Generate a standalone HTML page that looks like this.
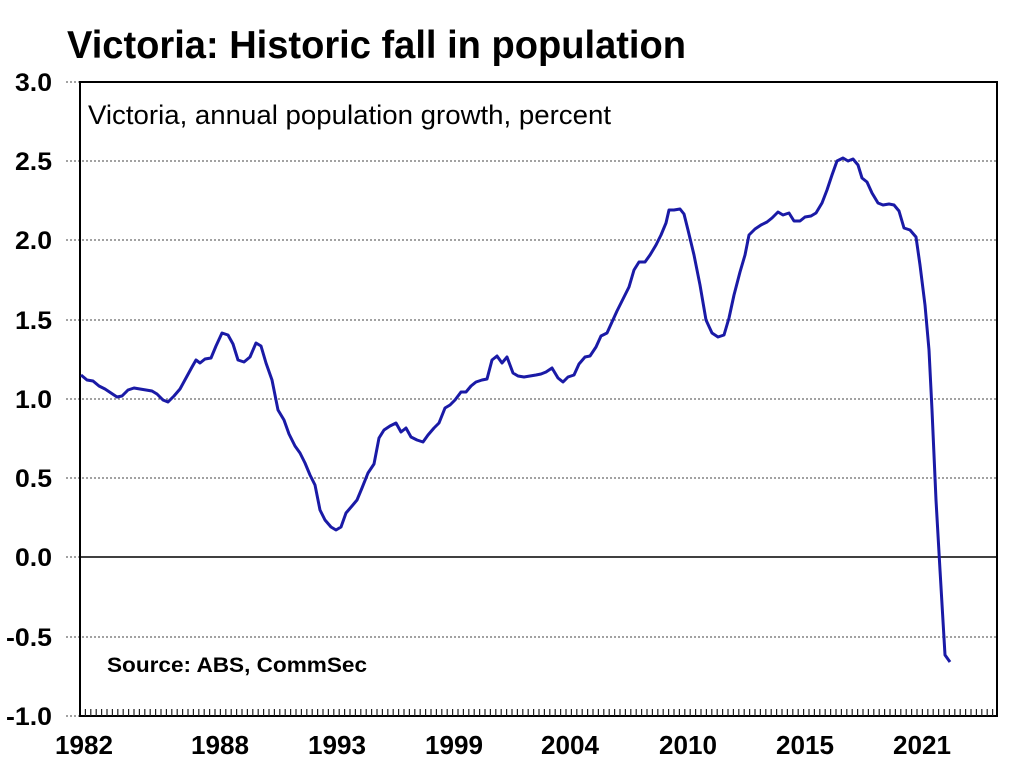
<!DOCTYPE html>
<html><head><meta charset="utf-8"><style>
html,body{margin:0;padding:0;background:#fff;}
svg{display:block;font-family:"Liberation Sans",Arial,sans-serif;}
</style></head><body>
<svg width="1023" height="768" viewBox="0 0 1023 768" xmlns="http://www.w3.org/2000/svg">
<rect width="1023" height="768" fill="#fff"/>
<text x="67" y="58" font-size="39" font-weight="bold" textLength="619" lengthAdjust="spacingAndGlyphs">Victoria: Historic fall in population</text>
<g stroke="#444" stroke-width="1" stroke-dasharray="2,2">
<line x1="66" y1="82" x2="996" y2="82"/>
<line x1="66" y1="161" x2="996" y2="161"/>
<line x1="66" y1="240" x2="996" y2="240"/>
<line x1="66" y1="320" x2="996" y2="320"/>
<line x1="66" y1="399" x2="996" y2="399"/>
<line x1="66" y1="478" x2="996" y2="478"/>
<line x1="66" y1="637" x2="996" y2="637"/>
<line x1="66" y1="716" x2="80" y2="716"/>
<line x1="66" y1="557" x2="80" y2="557"/>
</g>
<line x1="80" y1="557" x2="996" y2="557" stroke="#000" stroke-width="1.5"/>
<rect x="80" y="82" width="917" height="634" fill="none" stroke="#000" stroke-width="2"/>
<g font-size="25" font-weight="bold" text-anchor="end">
<text x="52" y="91" textLength="37" lengthAdjust="spacingAndGlyphs">3.0</text>
<text x="52" y="170" textLength="37" lengthAdjust="spacingAndGlyphs">2.5</text>
<text x="52" y="249" textLength="37" lengthAdjust="spacingAndGlyphs">2.0</text>
<text x="52" y="329" textLength="37" lengthAdjust="spacingAndGlyphs">1.5</text>
<text x="52" y="408" textLength="37" lengthAdjust="spacingAndGlyphs">1.0</text>
<text x="52" y="487" textLength="37" lengthAdjust="spacingAndGlyphs">0.5</text>
<text x="52" y="566" textLength="37" lengthAdjust="spacingAndGlyphs">0.0</text>
<text x="52" y="646" textLength="46" lengthAdjust="spacingAndGlyphs">-0.5</text>
<text x="52" y="725" textLength="46" lengthAdjust="spacingAndGlyphs">-1.0</text>
</g>
<g font-size="26" font-weight="bold" text-anchor="middle">
<text x="84" y="754" textLength="58" lengthAdjust="spacingAndGlyphs">1982</text>
<text x="220" y="754" textLength="58" lengthAdjust="spacingAndGlyphs">1988</text>
<text x="337" y="754" textLength="58" lengthAdjust="spacingAndGlyphs">1993</text>
<text x="454" y="754" textLength="58" lengthAdjust="spacingAndGlyphs">1999</text>
<text x="570" y="754" textLength="58" lengthAdjust="spacingAndGlyphs">2004</text>
<text x="688" y="754" textLength="58" lengthAdjust="spacingAndGlyphs">2010</text>
<text x="805" y="754" textLength="58" lengthAdjust="spacingAndGlyphs">2015</text>
<text x="922" y="754" textLength="58" lengthAdjust="spacingAndGlyphs">2021</text>
</g>
<text x="88" y="124" font-size="27" textLength="523" lengthAdjust="spacingAndGlyphs">Victoria, annual population growth, percent</text>
<text x="107" y="672" font-size="21" font-weight="bold" textLength="260" lengthAdjust="spacingAndGlyphs">Source: ABS, CommSec</text>
<polyline fill="none" stroke="#1a1aa6" stroke-width="3" stroke-linejoin="round" points="81,375 87,380 93,381 99,386 105,389 111,393 117,397 122,396 128,390 134,388 140,389 146,390 152,391 157,394 163,400 168,402 174,396 180,389 186,378 192,367 196,360 200,363 205,359 211,358 216,346 222,333 228,335 233,344 238,360 244,362 250,357 256,343 261,346 266,363 272,380 278,410 284,420 289,434 295,446 300,453 305,463 310,475 315,485 320,510 325,520 331,527 336,530 341,527 346,513 352,506 357,500 362,488 368,473 374,464 379,438 384,430 390,426 396,423 401,432 406,428 411,437 417,440 423,442 428,435 434,428 439,423 445,408 450,405 455,400 461,392 466,392 471,386 476,382 482,380 487,379 492,360 497,356 502,363 507,357 513,373 518,376 524,377 530,376 536,375 541,374 546,372 552,368 558,378 563,382 568,377 574,375 579,364 585,357 590,356 596,347 601,336 607,333 612,322 617,311 623,299 629,287 634,270 639,262 645,262 650,255 656,245 661,235 666,223 669,210 674,210 680,209 684,214 688,230 694,255 700,285 706,320 712,333 718,337 724,335 729,318 734,295 740,272 745,255 749,235 755,229 761,225 767,222 772,218 778,212 783,215 789,213 794,221 800,221 805,217 811,216 816,213 822,203 827,190 832,175 837,161 843,158 848,161 853,159 858,165 862,178 867,182 872,193 878,203 883,205 889,204 894,205 899,211 904,228 910,230 916,237 920,265 925,305 929,350 932,410 936,500 940,570 945,655 950,662"/>
<path stroke="#222" stroke-width="1.2" fill="none" d="M85.4,716v-7M90.8,716v-7M96.2,716v-7M101.6,716v-7M107,716v-7M112.4,716v-7M117.8,716v-7M123.2,716v-7M128.6,716v-7M134,716v-7M139.4,716v-7M144.8,716v-7M150.2,716v-7M155.6,716v-7M161,716v-7M166.4,716v-7M171.8,716v-7M177.2,716v-7M182.6,716v-7M188,716v-7M193.4,716v-7M198.8,716v-7M204.2,716v-7M209.6,716v-7M215,716v-7M220.4,716v-7M225.8,716v-7M231.2,716v-7M236.6,716v-7M242,716v-7M247.4,716v-7M252.8,716v-7M258.2,716v-7M263.6,716v-7M269,716v-7M274.4,716v-7M279.8,716v-7M285.2,716v-7M290.6,716v-7M296,716v-7M301.4,716v-7M306.8,716v-7M312.2,716v-7M317.6,716v-7M323,716v-7M328.4,716v-7M333.8,716v-7M339.2,716v-7M344.6,716v-7M350,716v-7M355.4,716v-7M360.8,716v-7M366.2,716v-7M371.6,716v-7M377,716v-7M382.4,716v-7M387.8,716v-7M393.2,716v-7M398.6,716v-7M404,716v-7M409.4,716v-7M414.8,716v-7M420.2,716v-7M425.6,716v-7M431,716v-7M436.4,716v-7M441.8,716v-7M447.2,716v-7M452.6,716v-7M458,716v-7M463.4,716v-7M468.8,716v-7M474.2,716v-7M479.6,716v-7M485,716v-7M490.4,716v-7M495.8,716v-7M501.2,716v-7M506.6,716v-7M512,716v-7M517.4,716v-7M522.8,716v-7M528.2,716v-7M533.6,716v-7M539,716v-7M544.4,716v-7M549.8,716v-7M555.2,716v-7M560.6,716v-7M566,716v-7M571.4,716v-7M576.8,716v-7M582.2,716v-7M587.6,716v-7M593,716v-7M598.4,716v-7M603.8,716v-7M609.2,716v-7M614.6,716v-7M620,716v-7M625.4,716v-7M630.8,716v-7M636.2,716v-7M641.6,716v-7M647,716v-7M652.4,716v-7M657.8,716v-7M663.2,716v-7M668.6,716v-7M674,716v-7M679.4,716v-7M684.8,716v-7M690.2,716v-7M695.6,716v-7M701,716v-7M706.4,716v-7M711.8,716v-7M717.2,716v-7M722.6,716v-7M728,716v-7M733.4,716v-7M738.8,716v-7M744.2,716v-7M749.6,716v-7M755,716v-7M760.4,716v-7M765.8,716v-7M771.2,716v-7M776.6,716v-7M782,716v-7M787.4,716v-7M792.8,716v-7M798.2,716v-7M803.6,716v-7M809,716v-7M814.4,716v-7M819.8,716v-7M825.2,716v-7M830.6,716v-7M836,716v-7M841.4,716v-7M846.8,716v-7M852.2,716v-7M857.6,716v-7M863,716v-7M868.4,716v-7M873.8,716v-7M879.2,716v-7M884.6,716v-7M890,716v-7M895.4,716v-7M900.8,716v-7M906.2,716v-7M911.6,716v-7M917,716v-7M922.4,716v-7M927.8,716v-7M933.2,716v-7M938.6,716v-7M944,716v-7M949.4,716v-7M954.8,716v-7M960.2,716v-7M965.6,716v-7M971,716v-7M976.4,716v-7M981.8,716v-7M987.2,716v-7M992.6,716v-7"/>
</svg>
</body></html>
